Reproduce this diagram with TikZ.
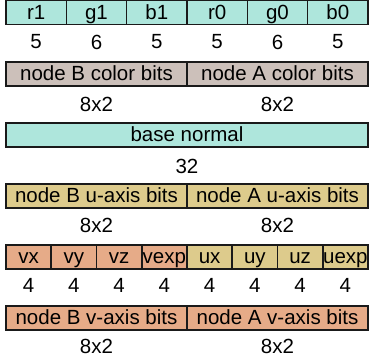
\documentclass[tikz,border=0pt]{standalone}
\usepackage{fontspec}
\setmainfont{Liberation Sans}
\definecolor{cteal}{HTML}{AEE6DC}
\definecolor{cgrey}{HTML}{CCC0BA}
\definecolor{ckhaki}{HTML}{DDCB8C}
\definecolor{csalmon}{HTML}{E6AB88}
\definecolor{cline}{HTML}{1A1A1A}
\tikzset{
  cell/.style={draw=cline, line width=1.6pt, rectangle, inner sep=0pt, minimum height=24pt, text height=16pt, text depth=3pt, font=\fontsize{20.5}{24}\selectfont},
  w6/.style={cell, minimum width=60.33pt},
  w8/.style={cell, minimum width=45.25pt},
  half/.style={cell, minimum width=181pt},
  full/.style={cell, minimum width=362pt},
  lbl/.style={inner sep=0pt, font=\fontsize{20.5}{24}\selectfont}
}
\begin{document}
\begin{tikzpicture}[x=1pt,y=1pt]
\useasboundingbox (0,0) rectangle (370,-360);
% row 1
\node[w6, fill=cteal] (r1) at (36.17,-12.5) {r1};
\node[w6, fill=cteal] (g1) at (96.5,-12.5) {g1};
\node[w6, fill=cteal] (b1) at (156.83,-12.5) {b1};
\node[w6, fill=cteal] (r0) at (217.17,-12.5) {r0};
\node[w6, fill=cteal] (g0) at (277.5,-12.5) {g0};
\node[w6, fill=cteal] (b0) at (337.83,-12.5) {b0};
\node[lbl] (lr1) at (36.17,-42) {5};
\node[lbl] (lg1) at (96.5,-42) {6};
\node[lbl] (lb1) at (156.83,-42) {5};
\node[lbl] (lr0) at (217.17,-42) {5};
\node[lbl] (lg0) at (277.5,-42) {6};
\node[lbl] (lb0) at (337.83,-42) {5};
% row 2
\node[half, fill=cgrey] (cb) at (96.5,-74) {node B color bits};
\node[half, fill=cgrey] (ca) at (277.5,-74) {node A color bits};
\node[lbl] (lcb) at (96.5,-104) {8x2};
\node[lbl] (lca) at (277.5,-104) {8x2};
% row 3
\node[full, fill=cteal] (bn) at (187,-135) {base normal};
\node[lbl] (lbn) at (187,-166) {32};
% row 4
\node[half, fill=ckhaki] (ub) at (96.5,-196) {node B u-axis bits};
\node[half, fill=ckhaki] (ua) at (277.5,-196) {node A u-axis bits};
\node[lbl] (lub) at (96.5,-225) {8x2};
\node[lbl] (lua) at (277.5,-225) {8x2};
% row 5
\node[w8, fill=csalmon] (vx) at (28.63,-257) {vx};
\node[w8, fill=csalmon] (vy) at (73.88,-257) {vy};
\node[w8, fill=csalmon] (vz) at (119.13,-257) {vz};
\node[w8, fill=csalmon] (vexp) at (164.38,-257) {vexp};
\node[w8, fill=ckhaki] (ux) at (209.63,-257) {ux};
\node[w8, fill=ckhaki] (uy) at (254.88,-257) {uy};
\node[w8, fill=ckhaki] (uz) at (300.13,-257) {uz};
\node[w8, fill=ckhaki] (uexp) at (345.38,-257) {uexp};
\node[lbl] (lvx) at (28.63,-285) {4};
\node[lbl] (lvy) at (73.88,-285) {4};
\node[lbl] (lvz) at (119.13,-285) {4};
\node[lbl] (lvexp) at (164.38,-285) {4};
\node[lbl] (lux) at (209.63,-285) {4};
\node[lbl] (luy) at (254.88,-285) {4};
\node[lbl] (luz) at (300.13,-285) {4};
\node[lbl] (luexp) at (345.38,-285) {4};
% row 6
\node[half, fill=csalmon] (vb) at (96.5,-318) {node B v-axis bits};
\node[half, fill=csalmon] (va) at (277.5,-318) {node A v-axis bits};
\node[lbl] (lvb) at (96.5,-346) {8x2};
\node[lbl] (lva) at (277.5,-346) {8x2};
\end{tikzpicture}
\end{document}
